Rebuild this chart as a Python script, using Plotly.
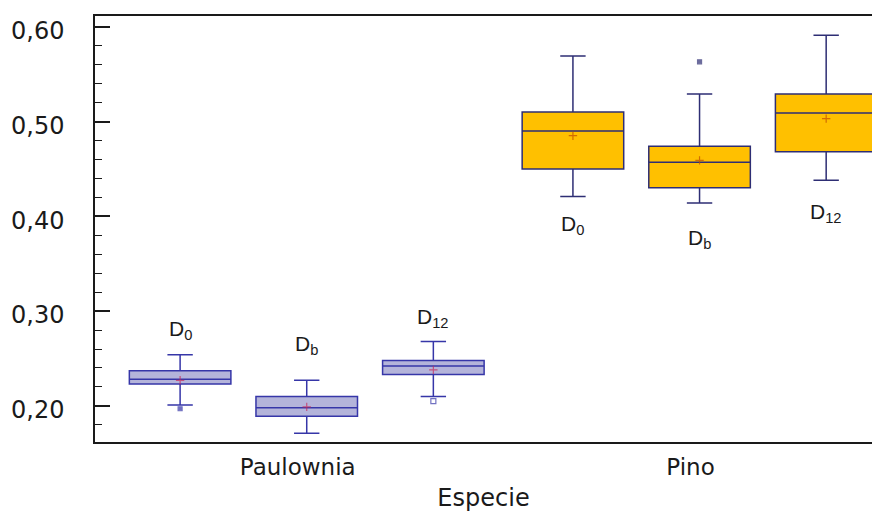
import plotly.graph_objects as go

species = ["Paulownia", "Pino"]
groups = ["D0", "Db", "D12"]
group_labels = ["D<sub>0</sub>", "D<sub>b</sub>", "D<sub>12</sub>"]

# statistics: rows = groups (D0, Db, D12), cols = species (Paulownia, Pino)
upper_fence = [[0.254, 0.569], [0.227, 0.529], [0.268, 0.591]]
q3_vals = [[0.237, 0.510], [0.210, 0.474], [0.248, 0.529]]
median_vals = [[0.228, 0.490], [0.198, 0.457], [0.242, 0.509]]
q1_vals = [[0.223, 0.450], [0.189, 0.430], [0.233, 0.468]]
lower_fence = [[0.201, 0.421], [0.171, 0.414], [0.210, 0.438]]
mean_vals = [[0.227, 0.485], [0.199, 0.459], [0.238, 0.503]]

# outliers: (group index, species, value)
outlier_group = [0, 1, 2]
outlier_species = ["Paulownia", "Pino", "Paulownia"]
outlier_vals = [0.197, 0.563, 0.205]

# label positions (value of label centre) per group, per species
label_y = [[0.280, 0.391], [0.264, 0.376], [0.293, 0.403]]

BOXGAP = 0.033
BOXGROUPGAP = 0.198

fill_colors = {"Paulownia": "#b4b4da", "Pino": "#ffc000"}
line_colors = {"Paulownia": "#3636a8", "Pino": "#2e2e74"}
mean_colors = {"Paulownia": "#c8285a", "Pino": "#c04a00"}

fig = go.Figure()

for gi, g in enumerate(groups):
    for si, sp in enumerate(species):
        fig.add_trace(go.Box(
            x=[sp],
            q1=[q1_vals[gi][si]],
            median=[median_vals[gi][si]],
            q3=[q3_vals[gi][si]],
            lowerfence=[lower_fence[gi][si]],
            upperfence=[upper_fence[gi][si]],
            offsetgroup=g,
            fillcolor=fill_colors[sp],
            line=dict(color=line_colors[sp], width=1.5),
            whiskerwidth=0.25,
            boxpoints=False,
            showlegend=False,
            hoverinfo="skip",
        ))

for gi, g in enumerate(groups):
    xs, ys, syms, cols, sizes = [], [], [], [], []
    for si, sp in enumerate(species):
        xs.append(sp)
        ys.append(mean_vals[gi][si])
        syms.append("cross-thin")
        cols.append(mean_colors[sp])
        sizes.append(6)
    for k in range(len(outlier_vals)):
        if outlier_group[k] == gi:
            xs.append(outlier_species[k])
            ys.append(outlier_vals[k])
            sp = outlier_species[k]
            syms.append("square-open" if gi == 2 else "square")
            cols.append(line_colors[sp])
            sizes.append(5 if gi == 2 else 4)
    fig.add_trace(go.Scatter(
        x=xs, y=ys, mode="markers", offsetgroup=g,
        marker=dict(symbol=syms, size=sizes, color=cols,
                    line=dict(color=cols, width=1.2)),
        showlegend=False, hoverinfo="skip",
    ))

slot = (1 - BOXGAP) / len(groups)
for gi in range(len(groups)):
    for si in range(len(species)):
        fig.add_annotation(
            x=si + (gi - 1) * slot, y=label_y[gi][si], xref="x", yref="y",
            text=group_labels[gi], showarrow=False,
            xanchor="center", yanchor="middle",
            font=dict(family="Liberation Sans, Arial, sans-serif", size=21, color="#1a1a1a"),
        )

fig.update_layout(
    width=872, height=520,
    margin=dict(l=95, r=0, t=16, b=78, autoexpand=False),
    paper_bgcolor="white", plot_bgcolor="white",
    boxmode="group", boxgap=BOXGAP, boxgroupgap=BOXGROUPGAP,
    scattermode="group", scattergap=BOXGAP,
    separators=",.",
    font=dict(family="DejaVu Sans, sans-serif", color="#1a1a1a"),
)

fig.update_xaxes(
    type="category", categoryorder="array", categoryarray=species,
    range=[-0.539, 1.439], automargin=False,
    showline=True, linecolor="#1a1a1a", linewidth=1.5, mirror=True,
    ticks="", showgrid=False, zeroline=False,
    tickfont=dict(family="DejaVu Sans, sans-serif", size=23, color="#1a1a1a"),
    ticklabelshift=-9, ticklabelstandoff=4,
    title=dict(text="Especie", font=dict(family="DejaVu Sans, sans-serif", size=24, color="#1a1a1a"), standoff=10),
)

fig.update_yaxes(
    range=[0.1619, 0.6113], automargin=False,
    tickmode="linear", tick0=0.2, dtick=0.1, tickformat=".2f",
    ticks="inside", ticklen=15, tickwidth=1.5, tickcolor="#1a1a1a",
    minor=dict(dtick=0.02, tick0=0.2, ticks="inside", ticklen=7, tickwidth=1.2, tickcolor="#1a1a1a"),
    showline=True, linecolor="#1a1a1a", linewidth=1.5, mirror=False,
    showgrid=False, zeroline=False,
    tickfont=dict(family="DejaVu Sans, sans-serif", size=24, color="#1a1a1a"),
    ticklabelstandoff=24, ticklabelshift=4,
)

fig.write_html(
    "out.html",
    config={"displayModeBar": False},
    post_script="document.body.style.margin='0';document.body.style.overflow='hidden';",
)
